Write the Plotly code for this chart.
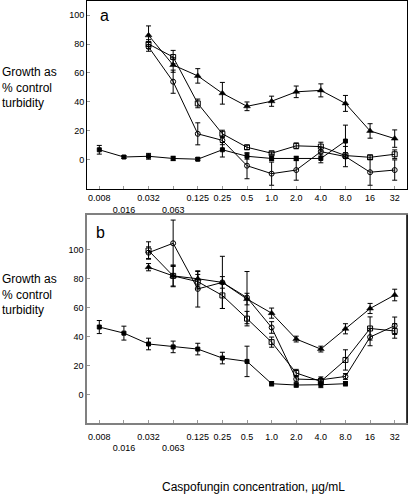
import plotly.graph_objects as go

conc = ["0.008", "0.016", "0.032", "0.063", "0.125", "0.25", "0.5",
        "1.0", "2.0", "4.0", "8.0", "16", "32"]
tick_text = ["0.008", "<br>0.016", "0.032", "<br>0.063", "0.125", "0.25", "0.5",
             "1.0", "2.0", "4.0", "8.0", "16", "32"]

# Panel a
a_low = [7, 2, 2.5, 1, 0.5, 7, 2.5, 1, 1, 1, 13, None, None]
a_low_err = [3, 1, 2, 1.5, 1, 5, 2, 1.5, 1.5, 3, 11, None, None]
a_tri = [None, None, 86, 65.5, 58, 46, 37, 40.5, 47, 48, 39, 20, 14.7]
a_tri_err = [None, None, 6.5, 5, 5, 7.5, 3, 3.5, 4, 4.5, 5.5, 5, 6]
a_sq = [None, None, 80, 71, 39, 18, 8.7, 4.6, 9.7, 9.2, 3, 1.8, 3.9]
a_sq_err = [None, None, 3, 4.6, 3, 2.5, 1.5, 1, 2, 3, 2, 1.5, 3]
a_circ = [None, None, 78, 54, 18, 13.5, -4, -9.5, -7, 5.7, 2.3, -8.5, -7]
a_circ_err = [None, None, 3, 8, 7.6, 3, 9, 8, 7, 3, 7, 9, 7]

# Panel b
b_low = [46.7, 42.5, 35, 33, 31.5, 25.3, 23, 7.6, 6.7, 6.9, 7.6, None, None]
b_low_err = [4.5, 4.8, 4, 4, 4, 4, 10.5, 1.5, 1.5, 2, 1.5, None, None]
b_tri = [None, None, 88, 82, 80, 77.5, 66, 56.3, 38.4, 31.5, 45.5, 59.5, 68.8]
b_tri_err = [None, None, 2.5, 7.5, 5, 4, 4, 3.5, 2, 2, 3.5, 3.5, 4]
b_sq = [None, None, 99.5, 82, 78, 68.5, 52.5, 36.3, 15, 9.2, 24, 45.7, 44]
b_sq_err = [None, None, 6, 7, 5, 9, 5, 3.5, 2.5, 2, 7, 8, 5]
b_circ = [None, None, 98, 104.5, 73, 77.5, 67, 46.4, 10.8, 10.3, 12.6, 39.8, 47.6]
b_circ_err = [None, None, 4, 16, 12.5, 18, 18, 4, 2, 2, 2, 6, 6]

y_ticks = [0, 20, 40, 60, 80, 100]

FONT = "Arial, Liberation Sans, sans-serif"

fig = go.Figure()

styles = {
    "low": dict(symbol="square", size=4, color="black", line=dict(color="black", width=1)),
    "tri": dict(symbol="triangle-up", size=6, color="black", line=dict(color="black", width=0.5)),
    "sq": dict(symbol="square-open", size=5, color="black", line=dict(color="black", width=1)),
    "circ": dict(symbol="circle-open", size=5, color="black", line=dict(color="black", width=1)),
}

def add(y, err, style, xa, ya):
    fig.add_trace(go.Scatter(
        x=conc, y=y, mode="lines+markers", xaxis=xa, yaxis=ya,
        line=dict(color="black", width=1),
        marker=styles[style],
        error_y=dict(type="data", array=err, visible=True, color="black",
                     thickness=1, width=2.5),
        connectgaps=False, showlegend=False, cliponaxis=True,
    ))

for y, e, s in [(a_low, a_low_err, "low"), (a_tri, a_tri_err, "tri"),
                (a_sq, a_sq_err, "sq"), (a_circ, a_circ_err, "circ")]:
    add(y, e, s, "x", "y")
for y, e, s in [(b_low, b_low_err, "low"), (b_tri, b_tri_err, "tri"),
                (b_sq, b_sq_err, "sq"), (b_circ, b_circ_err, "circ")]:
    add(y, e, s, "x2", "y2")

H_TOP = 1
H_BOT = 423.3
span = H_BOT - H_TOP
def fy(px):
    return (H_BOT - px) / span

xcommon = dict(type="category", categoryorder="array", categoryarray=conc,
               range=[-0.5, 12.5], tickmode="array", tickvals=conc, ticktext=tick_text,
               tickangle=0, automargin=False,
               ticks="inside", ticklen=3, tickcolor="#999", showgrid=False,
               zeroline=False, showline=True, mirror=True,
               tickfont=dict(family=FONT, size=9, color="black"))
ycommon = dict(tickmode="array", tickvals=y_ticks, ticks="inside", ticklen=3,
               automargin=False,
               tickcolor="#999", showgrid=False, zeroline=False, showline=True,
               mirror=True, tickfont=dict(family=FONT, size=9, color="black"))

fig.update_layout(
    width=408, height=494,
    margin=dict(l=87, r=1, t=H_TOP, b=494 - H_BOT, pad=0),
    paper_bgcolor="white", plot_bgcolor="white",
    font=dict(family=FONT, color="black"),
    xaxis=dict(**xcommon, domain=[0, 1], anchor="y", linecolor="black", linewidth=1),
    yaxis=dict(**ycommon, domain=[fy(189.3), 1], anchor="x", range=[-20.2, 109.7],
               linecolor="black", linewidth=1),
    xaxis2=dict(**xcommon, domain=[0, 1], anchor="y2", linecolor="#808080", linewidth=1.5,
                ticklabelstandoff=4),
    yaxis2=dict(**ycommon, domain=[0, fy(215)], anchor="x2", range=[-19.5, 124.1],
                linecolor="#808080", linewidth=1.5),
)

# right border of panel b is darker
fig.add_shape(type="line", xref="x2 domain", yref="y2 domain", x0=1, x1=1, y0=0, y1=1,
              line=dict(color="black", width=1.5))

ytitle = "Growth as<br>% control<br>turbidity"
for ypx in (88, 295):
    fig.add_annotation(text=ytitle, xref="paper", yref="paper", x=-87 / 320, y=fy(ypx),
                       xanchor="left", yanchor="middle", align="left", showarrow=False,
                       font=dict(family=FONT, size=12, color="black"))

fig.add_annotation(text="a", xref="paper", yref="paper", x=(104 - 87) / 320, y=fy(16),
                   xanchor="center", yanchor="middle", showarrow=False,
                   font=dict(family=FONT, size=16, color="black"))
fig.add_annotation(text="b", xref="paper", yref="paper", x=(100 - 87) / 320, y=fy(233),
                   xanchor="center", yanchor="middle", showarrow=False,
                   font=dict(family=FONT, size=16, color="black"))

fig.add_annotation(text="Caspofungin concentration, µg/mL", xref="paper", yref="paper",
                   x=(253 - 87) / 320, y=fy(487), xanchor="center", yanchor="middle",
                   showarrow=False, font=dict(family=FONT, size=12, color="black"))

fig.write_html("out.html", config={"displayModeBar": False})

with open("out.html", "r", encoding="utf-8") as f:
    html = f.read()
html = html.replace("<body>", '<body style="margin:0;padding:0;">', 1)
with open("out.html", "w", encoding="utf-8") as f:
    f.write(html)
